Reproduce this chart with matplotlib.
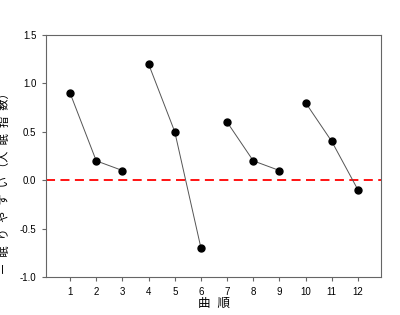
import matplotlib.pyplot as plt

plt.rcParams['font.family'] = ['Liberation Sans', 'Noto Sans CJK JP', 'DejaVu Sans']

# three songs per group, x = song order
groups = [[1, 2, 3], [4, 5, 6], [7, 8, 9], [10, 11, 12]]
values = [[0.9, 0.2, 0.1], [1.2, 0.5, -0.7], [0.6, 0.2, 0.1], [0.8, 0.4, -0.1]]
xticks = list(range(1, 13))
yticks = [-1.0, -0.5, 0.0, 0.5, 1.0, 1.5]

fig = plt.figure(figsize=(4, 3.15), dpi=100)
ax = fig.add_axes([46 / 400, 1 - 277 / 315, (381 - 46) / 400, (277 - 35) / 315])

for xs, ys in zip(groups, values):
    ax.plot(xs, ys, color='#555555', linewidth=0.7, zorder=2)
    ax.plot(xs, ys, 'o', color='black', markersize=5, zorder=3)

ax.axhline(0, color='red', linestyle=(0, (5, 3)), linewidth=1.3, zorder=1)

ax.set_xlim(0.08, 12.88)
ax.set_ylim(-1.0, 1.5)
ax.set_xticks(xticks)
ax.set_yticks(yticks)
ax.set_yticklabels([f"{v:.1f}" for v in yticks])
ax.tick_params(labelsize=7, length=3, width=0.8, color='#666666', pad=4)
for s in ax.spines.values():
    s.set_color('#666666')
    s.set_linewidth(0.8)

ax.set_xlabel('曲  順', fontsize=9, labelpad=1)
ax.set_ylabel('ー  眠  り  や  す  い （入  眠  指  数）', fontsize=8)
ax.yaxis.set_label_coords(-0.107, 0.4)

fig.savefig('out.png', dpi=100)
